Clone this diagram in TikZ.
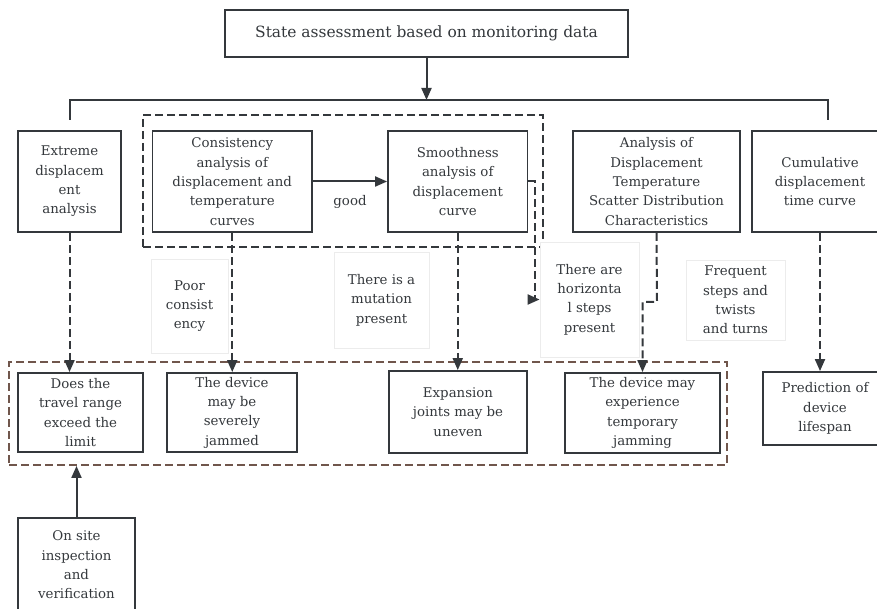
\documentclass[tikz,border=0pt]{standalone}
\usepackage{fontspec}
\setmainfont{DejaVu Serif}
\usetikzlibrary{arrows.meta}
\definecolor{linegray}{RGB}{52,56,60}
\definecolor{dashbrown}{RGB}{112,86,76}
\definecolor{notegray}{RGB}{236,236,236}

\begin{document}
\begin{tikzpicture}[x=0.75pt,y=-0.75pt,
  font=\fontsize{10pt}{14.5pt}\selectfont,
  every node/.style={text=linegray},
  box/.style={draw=linegray,line width=1.4pt,fill=white,align=center,inner sep=2pt},
  note/.style={draw=notegray,line width=0.6pt,fill=white,align=center,inner sep=2pt},
  frame/.style={line width=1.4pt,dash pattern=on 6pt off 3pt,inner sep=0pt},
  link/.style={draw=linegray,line width=1.5pt},
  dashlink/.style={link,dash pattern=on 6pt off 3pt},
  arr/.style={-{Triangle[length=9pt,width=7.5pt]}}]
\clip (0,0) rectangle (877,609);

\coordinate (busl) at (70,100);
\coordinate (busr) at (828,100);
\coordinate (stubl) at (70,120);
\coordinate (stubr) at (828,120);
\coordinate (smbend) at (534.5,181.5);
\coordinate (scbend) at (657,302);

% dashed frames
\node[frame,draw=linegray,minimum width=300pt,minimum height=99pt] (grp) at (343,181) {};
\node[frame,draw=dashbrown,minimum width=538.5pt,minimum height=77.25pt] (brn) at (368,413.5) {};

% top
\node[box,minimum width=302.25pt,minimum height=35.25pt,font=\fontsize{11.6pt}{14.5pt}\selectfont] (title) at (426.5,33.5) {State assessment based on monitoring data};

% first row
\node[box,minimum width=77.25pt,minimum height=75.75pt] (extreme) at (69.5,181.5) {Extreme\\displacem\\ent\\analysis};
\node[box,minimum width=119.6pt,minimum height=75.75pt] (cons) at (232.25,181.5) {Consistency\\analysis of\\displacement and\\temperature\\curves};
\node[box,minimum width=104.6pt,minimum height=75.75pt] (smooth) at (457.75,181.5) {Smoothness\\analysis of\\displacement\\curve};
\node[box,minimum width=125.25pt,minimum height=75.75pt] (scatter) at (656.5,181.5) {Analysis of\\Displacement\\Temperature\\Scatter Distribution\\Characteristics};
\node[box,minimum width=102pt,minimum height=75.75pt] (cumul) at (820,181.5) {Cumulative\\displacement\\time curve};
\node (good) at (350,202) {good};

% notes
\node[note,minimum width=57.75pt,minimum height=70.5pt] (poor) at (189.5,306) {Poor\\consist\\ency};
\node[note,minimum width=71.25pt,minimum height=72pt] (mut) at (381.5,300) {There is a\\mutation\\present};
\node[note,minimum width=74.25pt,minimum height=86.25pt] (horiz) at (589.5,299.5) {There are\\horizonta\\l steps\\present};
\node[note,minimum width=74.25pt,minimum height=60pt] (freq) at (735.5,300) {Frequent\\steps and\\twists\\and turns};

% second row
\node[box,minimum width=93.75pt,minimum height=59.25pt] (travel) at (80.5,412.5) {Does the\\travel range\\exceed the\\limit};
\node[box,minimum width=97.5pt,minimum height=59.25pt] (jam) at (232,412.5) {The device\\may be\\severely\\jammed};
\node[box,minimum width=103.5pt,minimum height=61.5pt] (joint) at (458,412) {Expansion\\joints may be\\uneven};
\node[box,minimum width=116.25pt,minimum height=60pt] (temp) at (642.5,413) {The device may\\experience\\temporary\\jamming};
\node[box,minimum width=93pt,minimum height=54.75pt] (pred) at (825,408.5) {Prediction of\\device\\lifespan};
\node[box,minimum width=87.75pt,minimum height=70.5pt] (site) at (76.5,565) {On site\\inspection\\and\\verification};

\draw[link,arr] (title.south) -- (title.south |- busl);
\draw[link] (stubl) -- (busl) -- (busr) -- (stubr);
\draw[link,arr] (cons.east) -- (smooth.west);

\draw[dashlink,arr] (extreme.south) -- (extreme.south |- travel.north);
\draw[dashlink,arr] (cons.south) -- (cons.south |- jam.north);
\draw[dashlink,arr] (smooth.south) -- (smooth.south |- joint.north);
\draw[dashlink,arr] (smooth.east) -- (smbend) |- (horiz.west);
\draw[dashlink,arr] (scatter.south) -- (scbend) -| (temp.north);
\draw[dashlink,arr] (cumul.south) -- (cumul.south |- pred.north);

\draw[link,arr] (site.north) -- (site.north |- brn.south);

\end{tikzpicture}
\end{document}
